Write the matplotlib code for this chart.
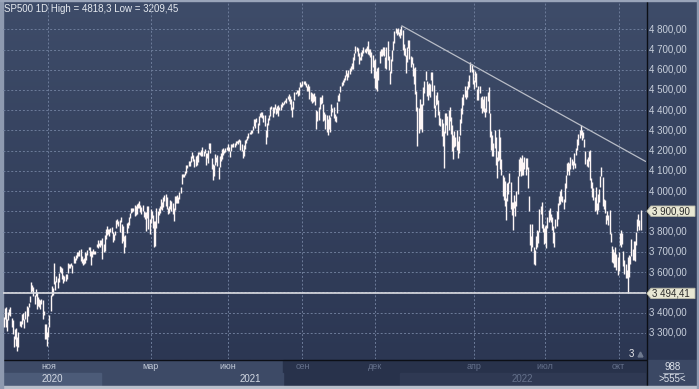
import matplotlib
matplotlib.use("Agg")
import matplotlib.pyplot as plt
import numpy as np
from matplotlib.patches import Rectangle, Polygon
from matplotlib.colors import LinearSegmentedColormap
from matplotlib import transforms

plt.rcParams['font.family'] = ['Liberation Sans', 'DejaVu Sans']

# ---------------- data: daily bars (low / high), Sep 2020 .. Oct 2022 ----------------
low = [
    # Sep 2020
    3329, 3367, 3329, 3311, 3363, 3389, 3384, 3328, 3292, 3229, 3270, 3232, 3209.45, 3228, 3333, 3327, 3341,
    # Oct 2020
    3362, 3323, 3368, 3354, 3384, 3428, 3450, 3500, 3504, 3480, 3442, 3483, 3419, 3434, 3428, 3415, 3440, 3366, 3388, 3268, 3268, 3233,
    # Nov 2020
    3279, 3328, 3405, 3482, 3485, 3543, 3512, 3552, 3520, 3552, 3600, 3594, 3567, 3544, 3555, 3556, 3565, 3594, 3619, 3622, 3629, 3594,
    # Dec 2020
    3644, 3645, 3661, 3669, 3678, 3678, 3657, 3645, 3633, 3640, 3645, 3659, 3685, 3710, 3679, 3636, 3676, 3688, 3689, 3690, 3723, 3719, 3730, 3725,
    # Jan 2021
    3735, 3663, 3699, 3705, 3765, 3783, 3789, 3777, 3797, 3795, 3750, 3760, 3785, 3816, 3837, 3830, 3797, 3845, 3745, 3752, 3694,
    # Feb 2021
    3725, 3791, 3816, 3832, 3869, 3892, 3895, 3902, 3879, 3884, 3885, 3915, 3915, 3899, 3885, 3901, 3874, 3860, 3805, 3866, 3814, 3789,
    # Mar 2021
    3842, 3868, 3818, 3723, 3730, 3818, 3843, 3880, 3890, 3912, 3906, 3924, 3949, 3926, 3913, 3885, 3890, 3910, 3900, 3886, 3853, 3907, 3940, 3940, 3943, 3959,
    # Apr 2021
    3990, 4034, 4068, 4069, 4079, 4092, 4114, 4124, 4122, 4143, 4165, 4150, 4118, 4126, 4131, 4142, 4182, 4178, 4176, 4175, 4175,
    # May 2021
    4187, 4128, 4162, 4141, 4208, 4187, 4111, 4056, 4075, 4129, 4145, 4124, 4061, 4120, 4151, 4160, 4178, 4190, 4191, 4202,
    # Jun 2021
    4197, 4198, 4167, 4197, 4218, 4218, 4219, 4229, 4238, 4232, 4243, 4202, 4196, 4164, 4173, 4210, 4240, 4254, 4263, 4280, 4281, 4286,
    # Jul 2021
    4300, 4322, 4314, 4340, 4289, 4329, 4366, 4366, 4363, 4341, 4322, 4233, 4266, 4329, 4352, 4373, 4405, 4366, 4387, 4407, 4383,
    # Aug 2021
    4384, 4373, 4400, 4403, 4415, 4424, 4430, 4441, 4436, 4456, 4447, 4430, 4400, 4367, 4406, 4450, 4482, 4486, 4469, 4473, 4513, 4514,
    # Sep 2021
    4522, 4528, 4523, 4515, 4493, 4493, 4457, 4445, 4437, 4441, 4448, 4427, 4305, 4346, 4352, 4406, 4429, 4436, 4346, 4351, 4307,
    # Oct 2021
    4290, 4279, 4305, 4293, 4373, 4389, 4360, 4347, 4341, 4386, 4447, 4447, 4489, 4518, 4523, 4537, 4548, 4568, 4551, 4563, 4580,
    # Nov 2021
    4595, 4605, 4604, 4650, 4681, 4694, 4670, 4630, 4648, 4648, 4667, 4684, 4688, 4683, 4691, 4680, 4672, 4662, 4585, 4613, 4561,
    # Dec 2021
    4510, 4504, 4495, 4547, 4632, 4666, 4667, 4671, 4667, 4609, 4606, 4647, 4597, 4531, 4583, 4642, 4700, 4733, 4783, 4774, 4777, 4766,
    # Jan 2022
    4758, 4774, 4700, 4671, 4666, 4582, 4637, 4708, 4653, 4614, 4630, 4571, 4531, 4482, 4395, 4222, 4287, 4309, 4309, 4290, 4428,
    # Feb 2022
    4485, 4551, 4470, 4452, 4474, 4464, 4548, 4493, 4412, 4364, 4426, 4429, 4378, 4327, 4320, 4271, 4223, 4114, 4286, 4329,
    # Mar 2022
    4279, 4304, 4345, 4284, 4199, 4157, 4218, 4223, 4202, 4162, 4188, 4277, 4335, 4382, 4424, 4466, 4454, 4465, 4507, 4517, 4588, 4589, 4530,
    # Apr 2022
    4507, 4539, 4513, 4452, 4450, 4485, 4411, 4384, 4395, 4392, 4366, 4390, 4446, 4386, 4267, 4201, 4175, 4172, 4214, 4131,
    # May 2022
    4063, 4148, 4155, 4107, 4081, 3975, 3957, 3928, 3859, 3950, 3985, 4040, 3913, 3884, 3810, 3919, 3875, 3926, 3984, 4077, 4101,
    # Jun 2022
    4074, 4079, 4080, 4107, 4080, 4110, 4017, 3900, 3735, 3705, 3723, 3640, 3636, 3715, 3722, 3745, 3800, 3889, 3820, 3799, 3738,
    # Jul 2022
    3743, 3721, 3816, 3847, 3859, 3845, 3810, 3742, 3722, 3818, 3826, 3861, 3930, 3934, 3951, 3948, 3910, 3946, 4016, 4079,
    # Aug 2022
    4098, 4079, 4107, 4128, 4107, 4128, 4112, 4178, 4202, 4228, 4263, 4277, 4253, 4263, 4218, 4133, 4124, 4121, 4147, 4057, 4017, 3970, 3954,
    # Sep 2022
    3903, 3907, 3886, 3906, 3944, 4022, 4073, 3928, 3913, 3890, 3838, 3855, 3832, 3790, 3749, 3648, 3644, 3624, 3623, 3611, 3584,
    # Oct 2022
    3604, 3733, 3723, 3741, 3630, 3588, 3569, 3571, 3494.41, 3578, 3641, 3678, 3661, 3658, 3657, 3733, 3803, 3828, 3808, 3808,
]

high = [
    # Sep 2020
    3380, 3424, 3425, 3368, 3402, 3419, 3428, 3375, 3362, 3285, 3320, 3323, 3279, 3306, 3360, 3357, 3393,
    # Oct 2020
    3398, 3369, 3409, 3432, 3426, 3447, 3482, 3549, 3534, 3527, 3485, 3515, 3501, 3477, 3465, 3461, 3466, 3464, 3409, 3342, 3342, 3305,
    # Nov 2020
    3330, 3389, 3486, 3529, 3521, 3645, 3557, 3582, 3569, 3593, 3628, 3624, 3619, 3585, 3581, 3590, 3589, 3643, 3642, 3640, 3644, 3634,
    # Dec 2020
    3679, 3670, 3682, 3700, 3697, 3709, 3712, 3678, 3665, 3668, 3697, 3695, 3711, 3726, 3726, 3703, 3702, 3712, 3703, 3705, 3740, 3756, 3744, 3760,
    # Jan 2021
    3760, 3770, 3738, 3783, 3811, 3826, 3812, 3811, 3820, 3823, 3796, 3790, 3805, 3859, 3861, 3852, 3859, 3870, 3836, 3830, 3778,
    # Feb 2021
    3784, 3843, 3848, 3872, 3894, 3916, 3918, 3919, 3931, 3925, 3935, 3940, 3950, 3933, 3921, 3931, 3903, 3895, 3895, 3928, 3925, 3862,
    # Mar 2021
    3914, 3903, 3882, 3852, 3851, 3915, 3903, 3918, 3925, 3960, 3944, 3969, 3981, 3984, 3970, 3918, 3925, 3956, 3950, 3943, 3919, 3978, 3975, 3981, 3969, 3995,
    # Apr 2021
    4020, 4084, 4087, 4084, 4098, 4129, 4131, 4148, 4151, 4173, 4191, 4180, 4160, 4175, 4179, 4194, 4194, 4194, 4201, 4219, 4199,
    # May 2021
    4210, 4187, 4187, 4202, 4238, 4236, 4162, 4135, 4131, 4184, 4171, 4178, 4118, 4173, 4188, 4210, 4213, 4203, 4213, 4218,
    # Jun 2021
    4235, 4216, 4198, 4233, 4232, 4237, 4238, 4249, 4249, 4255, 4258, 4251, 4233, 4204, 4226, 4255, 4256, 4271, 4286, 4292, 4300, 4302,
    # Jul 2021
    4320, 4355, 4356, 4361, 4337, 4372, 4387, 4393, 4393, 4375, 4376, 4300, 4336, 4360, 4374, 4415, 4422, 4416, 4416, 4429, 4412,
    # Aug 2021
    4422, 4424, 4417, 4430, 4440, 4438, 4445, 4450, 4461, 4468, 4480, 4470, 4455, 4418, 4444, 4489, 4492, 4501, 4499, 4513, 4537, 4531,
    # Sep 2021
    4546, 4545, 4542, 4535, 4522, 4529, 4521, 4492, 4486, 4482, 4486, 4471, 4402, 4394, 4416, 4466, 4463, 4473, 4430, 4389, 4382,
    # Oct 2021
    4375, 4355, 4374, 4365, 4429, 4412, 4416, 4381, 4372, 4439, 4475, 4487, 4520, 4540, 4551, 4560, 4572, 4598, 4585, 4597, 4608,
    # Nov 2021
    4620, 4635, 4664, 4683, 4718, 4714, 4708, 4684, 4663, 4688, 4697, 4714, 4701, 4707, 4717, 4743, 4702, 4704, 4686, 4672, 4646,
    # Dec 2021
    4652, 4595, 4608, 4612, 4694, 4705, 4705, 4713, 4711, 4665, 4712, 4743, 4666, 4592, 4652, 4699, 4741, 4791, 4808, 4799, 4808, 4786,
    # Jan 2022
    4800, 4818.3, 4797, 4726, 4707, 4673, 4714, 4749, 4745, 4666, 4665, 4632, 4611, 4612, 4494, 4418, 4411, 4454, 4429, 4432, 4516,
    # Feb 2022
    4546, 4595, 4542, 4528, 4533, 4531, 4590, 4588, 4527, 4427, 4473, 4490, 4452, 4394, 4360, 4356, 4336, 4295, 4385, 4388,
    # Mar 2022
    4373, 4401, 4416, 4368, 4327, 4276, 4299, 4268, 4303, 4247, 4271, 4358, 4412, 4465, 4481, 4522, 4499, 4520, 4546, 4575, 4637, 4627, 4603,
    # Apr 2022
    4549, 4593, 4583, 4504, 4521, 4521, 4464, 4471, 4453, 4471, 4410, 4471, 4489, 4513, 4385, 4299, 4279, 4240, 4300, 4270,
    # May 2022
    4170, 4200, 4308, 4270, 4158, 4082, 4068, 4050, 3964, 4039, 4047, 4090, 4044, 3945, 3944, 3981, 3950, 3999, 4075, 4158, 4169,
    # Jun 2022
    4166, 4177, 4143, 4168, 4164, 4164, 4119, 3975, 3838, 3778, 3837, 3722, 3707, 3779, 3809, 3802, 3913, 3928, 3945, 3838, 3818,
    # Jul 2022
    3829, 3832, 3873, 3906, 3918, 3886, 3873, 3829, 3796, 3864, 3903, 3939, 3975, 3999, 4013, 3975, 3960, 4039, 4078, 4140,
    # Aug 2022
    4145, 4140, 4167, 4161, 4151, 4187, 4137, 4211, 4258, 4280, 4301, 4325, 4302, 4292, 4258, 4197, 4159, 4167, 4200, 4204, 4063, 4044, 4015,
    # Sep 2022
    3970, 4019, 3943, 3987, 4010, 4077, 4119, 4070, 3960, 3956, 3880, 3902, 3880, 3907, 3791, 3728, 3715, 3700, 3723, 3687, 3672,
    # Oct 2022
    3700, 3791, 3807, 3793, 3706, 3662, 3641, 3608, 3672, 3685, 3680, 3762, 3713, 3752, 3753, 3799, 3862, 3886, 3859, 3905,
]

month_labels = ["ноя", "мар", "июн", "сен", "дек", "апр", "июл", "окт"]
month_bar = [39, 128, 195, 260, 323, 409, 471, 535]       # first bar of each labelled month
year_labels = ["2020", "2021", "2022"]
year_bar = [0, 85, 345]                                   # first visible bar of each year
price_ticks = [3300, 3400, 3500, 3600, 3700, 3800, 3900, 4000, 4100,
               4200, 4300, 4400, 4500, 4600, 4700, 4800]
last_close = 3900.90
level = 3494.41
trend_bars = [346, 502]                                   # highs the trend line joins
symbol = "SP500 1D"

# ---------------- figure ----------------
W, H = 699, 389
fig = plt.figure(figsize=(W / 100, H / 100), dpi=100)

bg = fig.add_axes([0, 0, 1, 1])
bg.set_xlim(0, W)
bg.set_ylim(H, 0)
bg.axis('off')
cmap = LinearSegmentedColormap.from_list('bg', ['#3e4c69', '#2c3753'])
grad = np.linspace(0, 1, 256).reshape(-1, 1)
bg.imshow(grad, cmap=cmap, extent=(0, W, 360, 0), aspect='auto', zorder=0)

# plot area
PL, PR, PT, PB = 3, 646, 2, 359
ax = fig.add_axes([PL / W, (H - PB) / H, (PR - PL) / W, (PB - PT) / H])
ax.patch.set_alpha(0)
n = len(high)
ax.set_xlim(-0.435, 558.7)
ax.set_ylim(3170.2, 4934.9)
for s in ax.spines.values():
    s.set_visible(False)
ax.set_yticks(price_ticks)
ax.set_xticks(month_bar)
ax.tick_params(length=0, labelleft=False, labelbottom=False)
ax.grid(True, color='#6d7c9a', lw=0.7, ls=(0, (2, 2)))
ax.set_axisbelow(True)

x = np.arange(n)
ax.vlines(x, low, high, colors='#fdf6f6', lw=1.0, zorder=3)

ax.axhline(level, color='#dcdde2', lw=1.2, zorder=4)

# trend line from first anchor to right edge
xa, xb = trend_bars
ya, yb = high[xa], high[xb]
xr = ax.get_xlim()[1]
ax.plot([xa, xr], [ya, ya + (yb - ya) / (xb - xa) * (xr - xa)],
        color='#b9bdc7', lw=0.9, zorder=4, solid_capstyle='butt')

# title
def fmt_num(v):
    s = f"{v:g}"
    return s.replace('.', ',')
title = f"{symbol} High = {fmt_num(max(high))} Low = {fmt_num(min(low))}"
bg.text(4, 8.5, title, fontsize=7, color='#e6eaf0', va='center', ha='left', zorder=10)

# right price axis
axr = fig.add_axes([PR / W, (H - PB) / H, (W - PR) / W, (PB - PT) / H])
axr.patch.set_alpha(0)
axr.set_xlim(0, W - PR)
axr.set_ylim(ax.get_ylim())
axr.axis('off')

def fmt_price(v):
    return f"{v:,.2f}".replace(',', ' ').replace('.', ',')

tags = [last_close, level]
for v in price_ticks:
    if any(abs(v - t) < 40 for t in tags):
        continue
    axr.text(3, v, fmt_price(v), fontsize=7, color='#c9d0dc', va='center', ha='left')

ylo, yhi = ax.get_ylim()
hh = 5.2 * (yhi - ylo) / (PB - PT)
for v in tags:
    poly = Polygon([(0.8, v), (5, v + hh), (49, v + hh), (49, v - hh), (5, v - hh)],
                   closed=True, facecolor='#e8e7d3', edgecolor='#b9b9a8', lw=0.6, zorder=5)
    axr.add_patch(poly)
    axr.text(5.5, v, fmt_price(v), fontsize=7, color='#2a2a2a', va='center', ha='left', zorder=6)

# separators
bg.plot([PR + 0.5, PR + 0.5], [0, H], color='#0c0f16', lw=1.0, zorder=5)
bg.plot([0, PR], [PB + 0.5, PB + 0.5], color='#0c0f16', lw=1.0, zorder=5)

# bottom time band
bt = transforms.blended_transform_factory(ax.transData, bg.transData)
nav_px = 283
bg.add_patch(Rectangle((PL, 360), nav_px - PL, 13, color='#3d4a66', zorder=1))
bg.add_patch(Rectangle((nav_px, 360), PR - nav_px, 13, color='#28324b', zorder=1))
bg.add_patch(Rectangle((nav_px, 373), PR - nav_px, 13, color='#28324b', zorder=1))
bg.add_patch(Rectangle((PL, 373), nav_px - PL, 13, color='#3d4a66', zorder=1))
# year cells
ax_left, ax_right = ax.get_xlim()
edges = [ax_left] + year_bar[1:] + [ax_right]
year_fc = ['#4c5b78', None, '#2f3953']
for i, lab in enumerate(year_labels):
    a, b = edges[i] - (0.5 if i else 0), edges[i + 1] - 0.5
    if year_fc[i]:
        bg.add_patch(Rectangle((a, 373), b - a, 13, color=year_fc[i], zorder=1.5, transform=bt))
    cx = (a + b) / 2
    col = '#d4dae4' if i < 2 else '#65718b'
    bg.text(cx, 379.5, lab, fontsize=7, color=col, ha='center', va='center', transform=bt, zorder=3)
for lab, m in zip(month_labels, month_bar):
    px = bg.transData.inverted().transform(ax.transData.transform((m, 0)))[0]
    col = '#c3cbd8' if px < nav_px else '#65718b'
    bg.text(m, 366.5, lab, fontsize=6.5, color=col, ha='center', va='center', transform=bt, zorder=3)

# bottom right box
bg.add_patch(Rectangle((PR + 1, 360), W - PR - 1, 26, color='#3b4864', zorder=1))
bg.text(672.5, 366.5, "988", fontsize=7, color='#dde2ea', ha='center', va='center', zorder=3)
bg.plot([663, 683], [372.8, 372.8], color='#aab3c2', lw=0.6, zorder=3)
bg.text(672.5, 379.5, f">{n}<", fontsize=7, color='#dde2ea', ha='center', va='center', zorder=3)

# small marker near bottom
bg.text(631, 354, "3", fontsize=7, color='#e8e8ea', ha='center', va='center', zorder=6)
bg.plot([640], [353.5], marker='^', ms=3.5, color='#6f7a8f', zorder=6)

# outer frame
bg.add_patch(Rectangle((0, 386), W, 3, color='#b8bfcb', zorder=6))
bg.add_patch(Rectangle((0, 0), 2.5, H, color='#8e9ab0', zorder=6))
bg.add_patch(Rectangle((0, 0), W, 1.2, color='#9aa5ba', zorder=6))
bg.add_patch(Rectangle((W - 2.5, 0), 2.5, H, color='#8e9ab0', zorder=6))

fig.savefig("out.png", dpi=100)
